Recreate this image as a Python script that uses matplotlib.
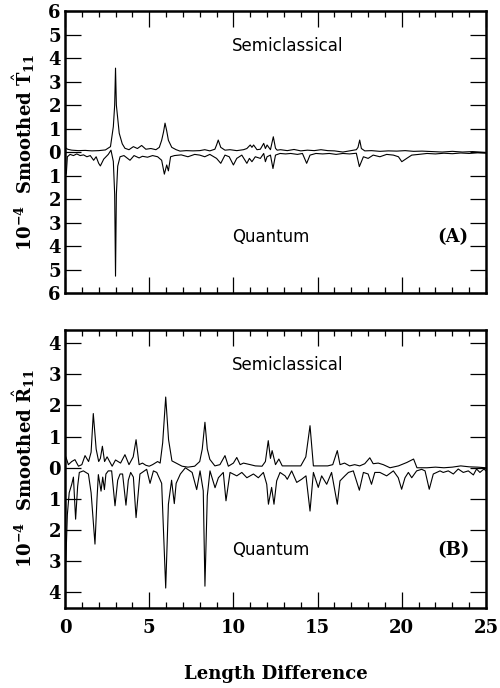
import matplotlib
matplotlib.use("Agg")
import matplotlib.pyplot as plt
import numpy as np

# values, (length difference, 10^-4 amplitude)
# quantum curves are drawn mirrored downward
t_semi = [(0.0, 0.2), (0.15, 0.12), (0.4, 0.08), (0.8, 0.06), (1.2, 0.07), (1.6, 0.05),
          (2.0, 0.06), (2.4, 0.09), (2.7, 0.23), (2.87, 1.08), (2.95, 2.0), (3.0, 3.57),
          (3.05, 2.0), (3.22, 0.8), (3.4, 0.35), (3.56, 0.16), (3.8, 0.1), (4.06, 0.23),
          (4.3, 0.15), (4.55, 0.28), (4.8, 0.12), (5.1, 0.15), (5.4, 0.1), (5.6, 0.2),
          (5.74, 0.5), (5.85, 0.85), (5.94, 1.23), (6.04, 0.9), (6.14, 0.5), (6.34, 0.2),
          (6.6, 0.1), (6.83, 0.04), (7.2, 0.06), (7.6, 0.05), (8.0, 0.06), (8.3, 0.1),
          (8.6, 0.05), (8.9, 0.12), (9.0, 0.3), (9.1, 0.51), (9.25, 0.2), (9.5, 0.08),
          (9.8, 0.1), (10.2, 0.06), (10.6, 0.1), (10.8, 0.15), (11.0, 0.3), (11.1, 0.2),
          (11.2, 0.3), (11.4, 0.1), (11.6, 0.12), (11.8, 0.37), (11.9, 0.15), (12.0, 0.3),
          (12.2, 0.1), (12.37, 0.65), (12.5, 0.16), (12.6, 0.08), (12.8, 0.1), (13.2, 0.06),
          (13.6, 0.11), (14.0, 0.05), (14.4, 0.08), (14.8, 0.06), (15.2, 0.1), (15.6, 0.06),
          (16.0, 0.05), (16.5, 0.0), (16.9, 0.05), (17.3, 0.1), (17.4, 0.2), (17.5, 0.51),
          (17.6, 0.15), (17.8, 0.05), (18.2, 0.06), (18.7, 0.03), (19.2, 0.05), (19.7, 0.04),
          (20.2, 0.06), (20.7, 0.03), (21.2, 0.04), (21.8, 0.02), (22.4, 0.0), (23.0, 0.03),
          (23.6, 0.0), (24.2, 0.02), (24.6, 0.0), (25.0, -0.02)]

t_quant = [(0.0, -1.05), (0.08, -0.9), (0.14, -0.2), (0.3, -0.1), (0.5, -0.15), (0.7, -0.08),
           (0.9, -0.15), (1.1, -0.12), (1.3, -0.2), (1.5, -0.15), (1.7, -0.35), (1.85, -0.2),
           (2.0, -0.48), (2.1, -0.59), (2.3, -0.3), (2.57, -0.1), (2.73, 0.08), (2.87, -0.4),
           (2.95, -1.8), (3.0, -5.28), (3.05, -1.8), (3.13, -0.6), (3.27, -0.2), (3.5, -0.15),
           (3.86, -0.35), (4.1, -0.15), (4.4, -0.25), (4.6, -0.18), (4.9, -0.22), (5.2, -0.15),
           (5.5, -0.2), (5.74, -0.35), (5.9, -0.94), (6.04, -0.55), (6.14, -0.8), (6.27, -0.2),
           (6.5, -0.15), (6.9, -0.12), (7.3, -0.2), (7.7, -0.1), (8.0, -0.13), (8.3, -0.2),
           (8.6, -0.1), (9.0, -0.27), (9.25, -0.48), (9.5, -0.13), (9.75, -0.2), (10.0, -0.55),
           (10.2, -0.27), (10.5, -0.13), (10.8, -0.48), (10.95, -0.27), (11.1, -0.41),
           (11.3, -0.2), (11.6, -0.27), (11.8, -0.06), (11.9, -0.41), (12.0, -0.2),
           (12.2, -0.13), (12.35, -0.7), (12.5, -0.13), (12.77, -0.06), (13.1, -0.08),
           (13.4, -0.06), (13.8, -0.1), (14.1, -0.06), (14.35, -0.48), (14.55, -0.13),
           (14.9, -0.06), (15.3, -0.08), (15.7, -0.06), (16.1, -0.1), (16.5, -0.06),
           (16.9, -0.08), (17.3, -0.05), (17.48, -0.62), (17.72, -0.2), (18.0, -0.27),
           (18.3, -0.13), (18.7, -0.2), (19.1, -0.1), (19.5, -0.13), (19.8, -0.2),
           (20.0, -0.41), (20.29, -0.27), (20.59, -0.13), (21.0, -0.1), (21.5, -0.06),
           (22.0, -0.08), (22.5, -0.05), (23.0, -0.07), (23.5, -0.04), (24.0, -0.06),
           (24.5, -0.03), (25.0, -0.05)]

r_semi = [(0.0, 0.35), (0.05, 0.35), (0.2, 0.1), (0.4, 0.2), (0.59, 0.26), (0.8, 0.05),
          (1.0, 0.1), (1.19, 0.39), (1.4, 0.2), (1.55, 0.5), (1.68, 1.74), (1.85, 0.6),
          (2.0, 0.2), (2.1, 0.3), (2.22, 0.69), (2.35, 0.2), (2.5, 0.35), (2.6, 0.25),
          (2.8, 0.05), (3.0, 0.25), (3.3, 0.15), (3.56, 0.42), (3.8, 0.1), (4.05, 0.35),
          (4.22, 0.9), (4.4, 0.1), (4.6, 0.15), (4.8, 0.08), (5.0, 0.05), (5.2, 0.1),
          (5.5, 0.2), (5.65, 0.15), (5.8, 0.8), (5.98, 2.27), (6.15, 0.9), (6.35, 0.22),
          (6.6, 0.15), (6.95, 0.05), (7.3, 0.02), (7.7, 0.05), (8.0, 0.2), (8.15, 0.6),
          (8.31, 1.46), (8.45, 0.6), (8.6, 0.27), (8.9, 0.06), (9.2, 0.1), (9.5, 0.39),
          (9.7, 0.05), (10.0, 0.15), (10.2, 0.33), (10.4, 0.1), (10.6, 0.15), (11.0, 0.1),
          (11.3, 0.06), (11.7, 0.05), (11.9, 0.2), (12.07, 0.87), (12.2, 0.3), (12.3, 0.55),
          (12.5, 0.1), (12.7, 0.28), (12.9, 0.06), (13.5, 0.06), (14.0, 0.06), (14.3, 0.35),
          (14.55, 1.35), (14.75, 0.06), (15.2, 0.06), (15.6, 0.06), (15.9, 0.1), (16.17, 0.55),
          (16.33, 0.1), (16.6, 0.15), (16.9, 0.06), (17.2, 0.1), (17.5, 0.06), (17.8, 0.13),
          (18.1, 0.32), (18.3, 0.13), (18.6, 0.15), (18.9, 0.1), (19.3, 0.0), (19.8, 0.06),
          (20.3, 0.17), (20.7, 0.28), (20.9, 0.0), (21.5, 0.0), (22.0, 0.02), (22.5, 0.0),
          (23.0, 0.02), (23.5, 0.06), (24.0, 0.03), (24.5, 0.02), (25.0, 0.0)]

r_quant = [(0.05, -3.0), (0.14, -1.5), (0.25, -0.8), (0.4, -0.53), (0.5, -0.3), (0.63, -1.65),
           (0.75, -0.6), (0.85, -0.15), (1.09, -0.1), (1.39, -0.2), (1.55, -0.8), (1.78, -2.45),
           (1.9, -1.0), (1.98, -0.22), (2.14, -0.75), (2.24, -0.3), (2.34, -0.7), (2.43, -0.2),
           (2.57, -0.1), (2.77, -0.1), (2.97, -1.22), (3.13, -0.4), (3.27, -0.2), (3.42, -0.2),
           (3.62, -1.2), (3.76, -0.4), (3.9, -0.15), (4.06, -0.3), (4.22, -1.6), (4.45, -0.2),
           (4.85, -0.05), (5.05, -0.5), (5.25, -0.1), (5.45, -0.15), (5.74, -0.5), (5.98, -3.86),
           (6.14, -1.17), (6.33, -0.4), (6.49, -1.15), (6.6, -0.5), (6.85, -0.2), (7.15, 0.0),
           (7.55, -0.15), (7.82, -0.7), (8.02, -0.1), (8.21, -0.74), (8.31, -3.8), (8.45, -0.9),
           (8.61, -0.1), (8.91, -0.64), (9.11, -0.32), (9.4, -0.15), (9.56, -1.06), (9.8, -0.15),
           (10.2, -0.26), (10.5, -0.15), (10.8, -0.32), (11.19, -0.2), (11.48, -0.32),
           (11.78, -0.15), (11.98, -0.53), (12.08, -1.17), (12.27, -0.63), (12.41, -1.17),
           (12.57, -0.42), (12.77, -0.15), (13.07, -0.26), (13.2, -0.37), (13.46, -0.1),
           (13.76, -0.47), (14.05, -0.37), (14.31, -0.26), (14.55, -1.39), (14.75, -0.15),
           (15.04, -0.63), (15.24, -0.26), (15.54, -0.53), (15.83, -0.15), (16.17, -1.17),
           (16.33, -0.42), (16.62, -0.26), (16.83, -0.15), (17.12, -0.1), (17.48, -0.72),
           (17.72, -0.15), (18.0, -0.2), (18.2, -0.53), (18.4, -0.15), (18.7, -0.15),
           (19.1, -0.26), (19.5, -0.1), (19.79, -0.32), (19.99, -0.69), (20.19, -0.32),
           (20.39, -0.15), (20.59, -0.32), (20.88, -0.1), (21.18, -0.05), (21.38, -0.1),
           (21.63, -0.69), (21.87, -0.2), (22.07, -0.15), (22.27, -0.1), (22.46, -0.15),
           (22.76, -0.1), (23.06, -0.2), (23.35, -0.04), (23.65, -0.15), (23.95, -0.1),
           (24.25, -0.23), (24.44, -0.04), (24.64, -0.15), (24.88, -0.04), (25.0, -0.1)]

top_yticks = list(range(-6, 7))
bot_yticks = list(range(-4, 5))
xticks = [0, 5, 10, 15, 20, 25]

plt.rcParams['mathtext.fontset'] = 'dejavuserif'
serif = dict(family='DejaVu Serif', weight='bold')

fig = plt.figure(figsize=(5.0, 6.88), dpi=100)
ax1 = fig.add_axes([0.13, 0.574, 0.842, 0.41])
ax2 = fig.add_axes([0.13, 0.1163, 0.842, 0.404])


def style_axis(ax, ylim, yticks, show_xlabels):
    ax.set_xlim(0, 25)
    ax.set_ylim(*ylim)
    for sp in ax.spines.values():
        sp.set_linewidth(1.8)
    ax.set_xticks(xticks)
    ax.set_xticks(np.arange(0, 26, 1), minor=True)
    ax.set_yticks(yticks)
    ax.set_yticklabels([str(abs(v)) for v in yticks], fontdict=serif, fontsize=13)
    ax.tick_params(axis='both', which='major', direction='in', top=True, right=True,
                   length=11.5, width=0.9, pad=3)
    ax.tick_params(axis='x', which='minor', direction='in', top=True, bottom=True,
                   length=4.3, width=0.9)
    ax.tick_params(axis='y', which='minor', left=False, right=False)
    if show_xlabels:
        ax.set_xticklabels([str(v) for v in xticks], fontdict=serif, fontsize=13)
        ax.tick_params(axis='x', which='major', pad=8)
    else:
        ax.set_xticklabels([])


for ax, semi, quant in [(ax1, t_semi, t_quant), (ax2, r_semi, r_quant)]:
    sx, sy = zip(*semi)
    qx, qy = zip(*quant)
    ax.plot(sx, sy, color='black', lw=0.8)
    ax.plot(qx, qy, color='black', lw=0.8)

style_axis(ax1, (-6, 6), top_yticks, False)
style_axis(ax2, (-4.5, 4.42), bot_yticks, True)

ax1.set_ylabel(r'10$^{\mathbf{-4}}$  Smoothed $\hat{\mathbf{T}}_{\mathbf{11}}$',
               fontdict=serif, fontsize=13, labelpad=8)
ax2.set_ylabel(r'10$^{\mathbf{-4}}$  Smoothed $\hat{\mathbf{R}}_{\mathbf{11}}$',
               fontdict=serif, fontsize=13, labelpad=8)
ax2.set_xlabel('Length Difference', fontdict=serif, fontsize=13, labelpad=20)

ax1.text(9.9, 4.5, 'Semiclassical', fontsize=12, family='DejaVu Sans', va='center')
ax1.text(9.9, -3.6, 'Quantum', fontsize=12, family='DejaVu Sans', va='center')
ax1.text(22.1, -3.6, '(A)', fontdict=serif, fontsize=13, va='center')
ax2.text(9.9, 3.3, 'Semiclassical', fontsize=12, family='DejaVu Sans', va='center')
ax2.text(9.9, -2.65, 'Quantum', fontsize=12, family='DejaVu Sans', va='center')
ax2.text(22.1, -2.65, '(B)', fontdict=serif, fontsize=13, va='center')

fig.savefig('out.png', dpi=100)
